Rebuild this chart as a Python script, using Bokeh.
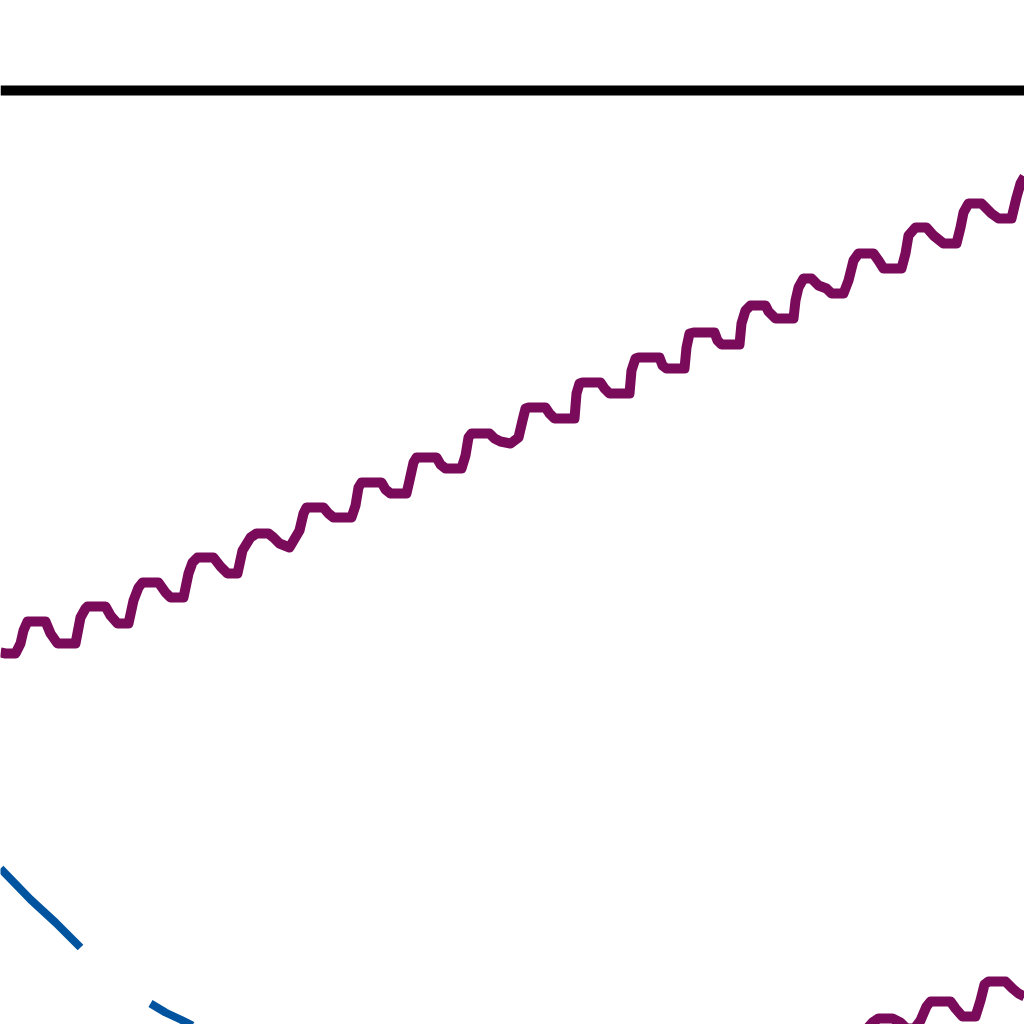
from bokeh.plotting import figure
from bokeh.models import Range1d, Span
from bokeh.embed import file_html
from bokeh.resources import INLINE

nan = float("nan")

# Reference level (horizontal black line)
threshold = 934

# Upper purple series (rising with a periodic wiggle)
upper_x = [0, 5, 15, 20, 23, 27, 45, 50, 57, 75, 80, 85, 87, 105, 110, 117, 128, 133, 138, 142,
           158, 165, 170, 183, 188, 192, 197, 213, 220, 227, 237, 242, 250, 256, 268, 273, 279, 289,
           299, 303, 306, 323, 328, 333, 351, 355, 358, 361, 381, 385, 390, 406, 409, 413, 416, 436,
           440, 445, 461, 465, 468, 471, 489, 494, 500, 510, 518, 522, 525, 528, 545, 549, 554, 574,
           576, 579, 582, 600, 604, 609, 629, 631, 635, 638, 659, 662, 666, 684, 686, 689, 693, 714,
           717, 721, 739, 741, 745, 750, 765, 768, 775, 793, 795, 798, 803, 811, 818, 826, 831, 843,
           848, 853, 858, 873, 878, 883, 901, 905, 908, 915, 926, 933, 943, 956, 960, 963, 968, 981,
           991, 998, 1011, 1016, 1020, 1024]
upper_y = [372, 371, 371, 381, 394, 403, 403, 391, 381, 381, 407, 416, 418, 418, 409, 401, 401, 424, 437, 442,
           442, 432, 427, 427, 451, 462, 467, 467, 458, 451, 451, 474, 487, 491, 491, 487, 481, 477,
           494, 511, 517, 517, 511, 507, 507, 519, 537, 542, 542, 535, 531, 531, 544, 562, 567, 567,
           560, 556, 556, 569, 587, 591, 591, 586, 583, 581, 587, 604, 616, 617, 617, 611, 606, 606,
           631, 641, 642, 642, 636, 631, 631, 654, 666, 667, 667, 659, 656, 656, 677, 691, 692, 692,
           684, 680, 680, 701, 714, 719, 719, 713, 706, 706, 724, 737, 746, 746, 739, 736, 731, 731,
           744, 764, 771, 771, 764, 756, 756, 771, 789, 797, 797, 789, 781, 781, 797, 812, 821, 821,
           811, 806, 806, 827, 841, 848]

# Lower purple series (only its upper end is visible)
lower_x = [865, 872, 878, 892, 900, 906, 914, 920, 926, 930, 950, 955, 962, 975, 980, 984, 988, 1005, 1012, 1018, 1024]
lower_y = [-6, 2, 6, 6, 2, -4, -4, 4, 18, 23, 23, 16, 8, 8, 24, 40, 43, 43, 36, 31, 28]

# Blue series (falling, with a gap)
blue_x = [0, 30, 55, 80, nan, 150, 165, 180, 192]
blue_y = [156, 125, 102, 77, nan, 21, 12, 5, -1]

PURPLE = "#7a0a5a"
BLUE = "#00549f"

p = figure(width=1024, height=1024, x_range=Range1d(0, 1024), y_range=Range1d(0, 1024),
           output_backend="svg", toolbar_location=None, min_border=0,
           x_axis_location=None, y_axis_location=None)
p.grid.visible = False
p.outline_line_color = None
p.background_fill_color = "white"
p.border_fill_color = "white"
p.styles = {"position": "absolute", "top": "0px", "left": "0px"}

p.add_layout(Span(location=threshold, dimension="width", line_color="black", line_width=10))
p.line(upper_x, upper_y, line_color=PURPLE, line_width=10, line_join="round")
p.line(lower_x, lower_y, line_color=PURPLE, line_width=10, line_join="round")
p.line(blue_x, blue_y, line_color=BLUE, line_width=8, line_join="round")

open("out.html", "w").write(file_html(p, INLINE))
